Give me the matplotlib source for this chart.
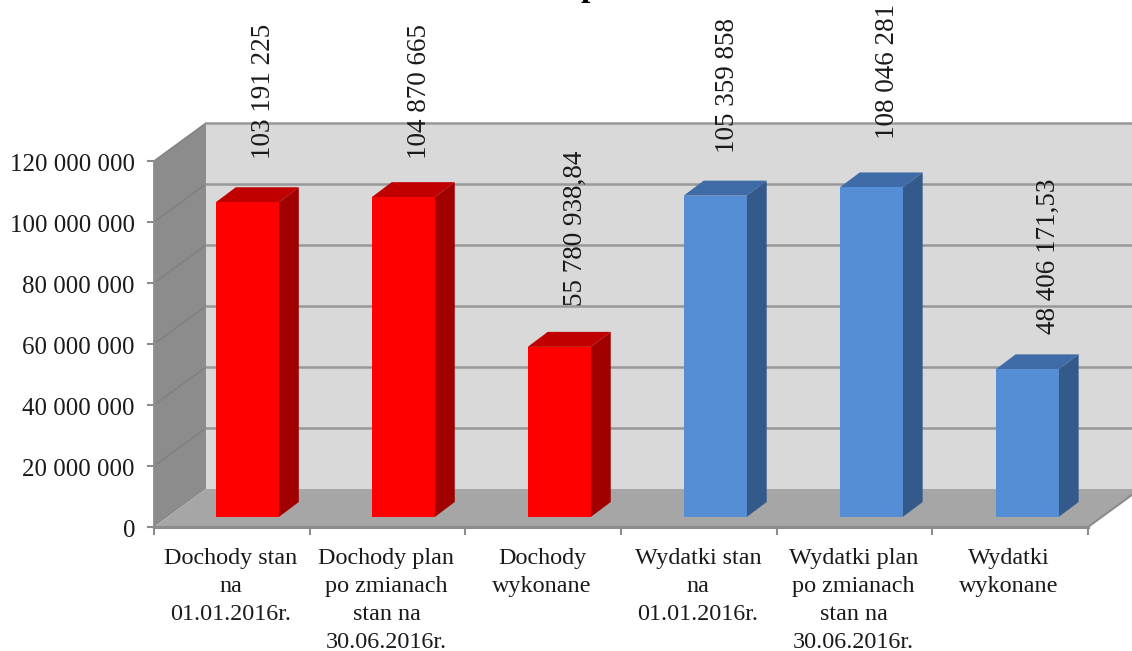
import matplotlib
matplotlib.use("Agg")
import matplotlib.pyplot as plt
from matplotlib.patches import Polygon

categories = [
    "Dochody stan\nna\n01.01.2016r.",
    "Dochody plan\npo zmianach\nstan na\n30.06.2016r.",
    "Dochody\nwykonane",
    "Wydatki stan\nna\n01.01.2016r.",
    "Wydatki plan\npo zmianach\nstan na\n30.06.2016r.",
    "Wydatki\nwykonane",
]
values = [103191225, 104870665, 55780938.84, 105359858, 108046281, 48406171.53]
value_labels = ["103 191 225", "104 870 665", "55 780 938,84",
                "105 359 858", "108 046 281", "48 406 171,53"]
y_ticks = [0, 20000000, 40000000, 60000000, 80000000, 100000000, 120000000]
y_tick_labels = ["0", "20 000 000", "40 000 000", "60 000 000",
                 "80 000 000", "100 000 000", "120 000 000"]
bar_colors = ["#ff0000"] * 3 + ["#558ed5"] * 3
top_colors = ["#c00000"] * 3 + ["#3f6ca6"] * 3
side_colors = ["#a00000"] * 3 + ["#335a8a"] * 3

# tweaks for the rotated labels, in pixels
label_dx = [16, 16, 16, 12, 16, 21]
label_dy = [28, 23, 26, 28, 33, 20]

W, H = 1132, 651
plt.rcParams["font.family"] = ["Liberation Serif", "DejaVu Serif"]
fig = plt.figure(figsize=(W / 100, H / 100), dpi=100)
ax = fig.add_axes([154 / W, 1 - 527 / H, (1088 - 154) / W, (527 - 161) / H])
ax.set_xlim(0, 6)
ax.set_ylim(0, 120000000)
ax.axis("off")

px_x = 6 / (1088 - 154)
px_y = 120000000 / (527 - 161)


def poly(pts, color, z=1):
    ax.add_patch(Polygon(pts, closed=True, fc=color, ec="none", zorder=z, clip_on=False))


# walls and floor, depth is a shift in x and y
wall_dx, wall_dy = 52 * px_x, 38 * px_y
ymax = 120000000
poly([(0, 0), (wall_dx, wall_dy), (wall_dx, ymax + wall_dy), (0, ymax)], "#8c8c8c")
poly([(wall_dx, wall_dy), (6 + wall_dx, wall_dy), (6 + wall_dx, ymax + wall_dy),
      (wall_dx, ymax + wall_dy)], "#d9d9d9")
poly([(0, 0), (6, 0), (6 + wall_dx, wall_dy), (wall_dx, wall_dy)], "#a6a6a6", 2)

for t in y_ticks[1:]:
    ax.plot([0, wall_dx], [t, t + wall_dy], color="#7f7f7f", lw=1, zorder=3, clip_on=False)
    ax.plot([wall_dx, 6 + wall_dx], [t + wall_dy, t + wall_dy], color="#989898", lw=1.8,
            zorder=3, clip_on=False)
ax.plot([6, 6 + wall_dx], [0, wall_dy], color="#8c8c8c", lw=1.5, zorder=3, clip_on=False)

# axis lines and ticks
ax.plot([0, 0], [0, ymax], color="#8c8c8c", lw=2, zorder=4, clip_on=False)
ax.plot([0, 6], [0, 0], color="#8c8c8c", lw=2.2, zorder=4, clip_on=False)
for t, lab in zip(y_ticks, y_tick_labels):
    ax.plot([-6 * px_x, 0], [t, t], color="#8c8c8c", lw=1.5, zorder=4, clip_on=False)
    ax.annotate(lab, (0, t), xytext=(-19, -4), textcoords="offset pixels", ha="right",
                va="center", fontsize=17.9, color="#1a1a1a")
for k in range(7):
    ax.plot([k, k], [0, -7 * px_y], color="#8c8c8c", lw=1.5, zorder=4, clip_on=False)

# bars
bar_w = 63 * px_x
start_dx, start_dy = 61.8 * px_x, 10 * px_y
depth_dx, depth_dy = 20 * px_x, 15 * px_y
for i, (v, c, ct, cs) in enumerate(zip(values, bar_colors, top_colors, side_colors)):
    x0 = i + start_dx + i * 0.3 * px_x
    x1 = x0 + bar_w
    y0 = start_dy
    y1 = y0 + v
    poly([(x1, y0), (x1 + depth_dx, y0 + depth_dy), (x1 + depth_dx, y1 + depth_dy), (x1, y1)], cs, 5)
    poly([(x0, y1), (x1, y1), (x1 + depth_dx, y1 + depth_dy), (x0 + depth_dx, y1 + depth_dy)], ct, 5)
    poly([(x0, y0), (x1, y0), (x1, y1), (x0, y1)], c, 6)
    ax.annotate(value_labels[i], (x0 + bar_w / 2, y1 + depth_dy),
                xytext=(label_dx[i], label_dy[i]), textcoords="offset pixels",
                rotation=90, ha="center", va="bottom", fontsize=19.5, color="#1a1a1a",
                annotation_clip=False)

# category labels
for i, cat in enumerate(categories):
    ax.annotate(cat, (i + 0.5, 0), xytext=(-1, -21), textcoords="offset pixels",
                ha="center", va="top", fontsize=17.4, color="#1a1a1a", linespacing=1.44,
                annotation_clip=False)

# title is cut off by the top edge, only the descender of a p shows
fig.text(590 / W, 1 + 4 / H, "p", fontsize=24, fontweight="bold", ha="center", va="baseline")

fig.savefig("out.png", dpi=100)
